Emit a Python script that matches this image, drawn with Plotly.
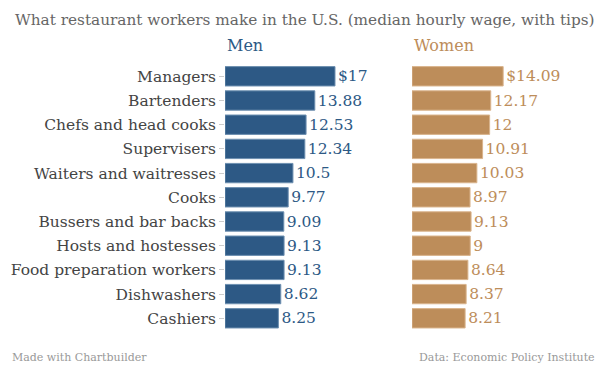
import plotly.graph_objects as go

categories = ["Managers", "Bartenders", "Chefs and head cooks", "Supervisers",
              "Waiters and waitresses", "Cooks", "Bussers and bar backs",
              "Hosts and hostesses", "Food preparation workers", "Dishwashers", "Cashiers"]
men = [17, 13.88, 12.53, 12.34, 10.5, 9.77, 9.09, 9.13, 9.13, 8.62, 8.25]
women = [14.09, 12.17, 12, 10.91, 10.03, 8.97, 9.13, 9, 8.64, 8.37, 8.21]
men_labels = ["$17", "13.88", "12.53", "12.34", "10.5", "9.77", "9.09", "9.13", "9.13", "8.62", "8.25"]
women_labels = ["$14.09", "12.17", "12", "10.91", "10.03", "8.97", "9.13", "9", "8.64", "8.37", "8.21"]

W, H = 610, 382
MEN_C = "#2d5985"
WOMEN_C = "#bd8d5a"
FONT = "DejaVu Serif"
ppu = 6.47  # pixels per dollar

fig = go.Figure()
fig.add_trace(go.Bar(y=categories, x=men, orientation="h", xaxis="x", yaxis="y",
                     marker=dict(color=MEN_C, line=dict(color="#6d8fb0", width=1)),
                     width=0.8, text=men_labels, textposition="outside",
                     textfont=dict(color=MEN_C, size=15.5, family=FONT),
                     cliponaxis=False, showlegend=False, hoverinfo="skip"))
fig.add_trace(go.Bar(y=categories, x=women, orientation="h", xaxis="x2", yaxis="y2",
                     marker=dict(color=WOMEN_C, line=dict(color="#d9b48d", width=1)),
                     width=0.8, text=women_labels, textposition="outside",
                     textfont=dict(color=WOMEN_C, size=15.5, family=FONT),
                     cliponaxis=False, showlegend=False, hoverinfo="skip"))

m0, m1 = 225, 390
w0, w1 = 412, 600
top, bot = 64.2, 330.4
ydom = [(H - bot) / H, (H - top) / H]

fig.update_layout(
    width=W, height=H, margin=dict(l=0, r=0, t=0, b=0),
    paper_bgcolor="white", plot_bgcolor="white",
    font=dict(family=FONT, color="#444"),
    xaxis=dict(domain=[m0 / W, m1 / W], range=[0, (m1 - m0) / ppu], visible=False),
    xaxis2=dict(domain=[w0 / W, w1 / W], range=[0, (w1 - w0) / ppu], visible=False),
    yaxis=dict(domain=ydom, anchor="x", autorange="reversed", showgrid=False,
               ticks="outside", ticklen=5, tickcolor="#cccccc", showline=False,
               tickfont=dict(size=15.5, color="#444", family=FONT)),
    yaxis2=dict(domain=ydom, anchor="x2", autorange="reversed", showticklabels=False,
                showgrid=False, ticks=""),
    bargap=0.2,
)

fig.add_annotation(text="What restaurant workers make in the U.S. (median hourly wage, with tips)",
                   x=W / 2 / W, y=(H - 20) / H, xref="paper", yref="paper",
                   showarrow=False, font=dict(size=15.3, color="#666", family=FONT),
                   xanchor="center", yanchor="middle")
fig.add_annotation(text="Men", x=m0 / W, y=(H - 46) / H, xref="paper", yref="paper",
                   showarrow=False, font=dict(size=16, color=MEN_C, family=FONT),
                   xanchor="left", yanchor="middle")
fig.add_annotation(text="Women", x=w0 / W, y=(H - 46) / H, xref="paper", yref="paper",
                   showarrow=False, font=dict(size=16, color=WOMEN_C, family=FONT),
                   xanchor="left", yanchor="middle")
fig.add_annotation(text="Made with Chartbuilder", x=10 / W, y=(H - 357) / H,
                   xref="paper", yref="paper", showarrow=False,
                   font=dict(size=11, color="#999", family=FONT),
                   xanchor="left", yanchor="middle")
fig.add_annotation(text="Data: Economic Policy Institute", x=597 / W, y=(H - 357) / H,
                   xref="paper", yref="paper", showarrow=False,
                   font=dict(size=11, color="#999", family=FONT),
                   xanchor="right", yanchor="middle")

fig.write_html("out.html", config={"displayModeBar": False},
               post_script="document.body.style.margin='0';")
